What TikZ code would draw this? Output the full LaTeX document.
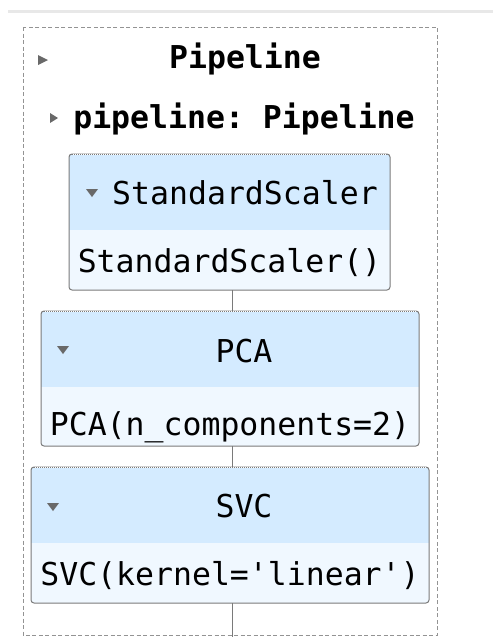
\documentclass[tikz,border=0pt]{standalone}
\usepackage{fontspec}
\setmonofont{DejaVu Sans Mono}
\usepackage{tikz}
\definecolor{skhead}{HTML}{D4EBFF}
\definecolor{skbody}{HTML}{F0F8FF}
\definecolor{skline}{HTML}{7A7A7A}
\definecolor{sktri}{HTML}{696969}
\tikzset{
	outerbox/.style={draw=gray!85, line width=1pt, dash pattern=on 4pt off 2.5pt},
	estbox/.style={inner sep=0pt, outer sep=0pt},
	boxline/.style={draw=skline, line width=1pt, rounded corners=3pt},
	topdots/.style={draw=skline, line width=1pt, dash pattern=on 1pt off 1pt},
	link/.style={draw=skline, line width=1pt},
	tri/.style={fill=sktri},
	boldtxt/.style={font=\ttfamily\bfseries\fontsize{31.5}{36}\selectfont, inner sep=0pt, anchor=base},
	plaintxt/.style={font=\ttfamily\fontsize{31.5}{36}\selectfont, inner sep=0pt, anchor=base}
}

\begin{document}
\begin{tikzpicture}[x=1pt,y=-1pt]
		\useasboundingbox (0,0) rectangle (493,637);
		\draw[line width=3pt,color=gray!18] (8,11) -- (493,11);
		\draw[outerbox] (23,27) rectangle (437,635);

		% pipeline titles
		\fill[tri] (38,55) -- (48,60) -- (38,65) -- cycle;
		\node[boldtxt] (title) at (245,68) {Pipeline};
		\fill[tri] (50,113) -- (58,118) -- (50,123) -- cycle;
		\node[boldtxt] (pipe) at (244,128) {pipeline: Pipeline};

		% StandardScaler
		\node[estbox,minimum width=321pt,minimum height=136pt] (ss) at (229.5,222) {};
		\begin{scope}
			\clip[rounded corners=3pt] (ss.north west) rectangle (ss.south east);
			\fill[skbody] (ss.north west) rectangle (ss.south east);
			\fill[skhead] (ss.north west) rectangle ([yshift=-76pt]ss.north east);
		\end{scope}
		\draw[boxline] (ss.north west) rectangle (ss.south east);
		\draw[white,line width=1pt] ([xshift=3pt]ss.north west) -- ([xshift=-3pt]ss.north east);
		\draw[topdots] ([xshift=3pt]ss.north west) -- ([xshift=-3pt]ss.north east);
		\fill[tri] (86,189) -- (98,189) -- (92,197) -- cycle;
		\node[plaintxt] (ssname) at (245,204) {StandardScaler};
		\node[plaintxt] (ssparam) at (229.5,272) {StandardScaler()};

		% PCA
		\node[estbox,minimum width=378pt,minimum height=135pt] (pca) at (230,378.5) {};
		\begin{scope}
			\clip[rounded corners=3pt] (pca.north west) rectangle (pca.south east);
			\fill[skbody] (pca.north west) rectangle (pca.south east);
			\fill[skhead] (pca.north west) rectangle ([yshift=-76pt]pca.north east);
		\end{scope}
		\draw[boxline] (pca.north west) rectangle (pca.south east);
		\draw[white,line width=1pt] ([xshift=3pt]pca.north west) -- ([xshift=-3pt]pca.north east);
		\draw[topdots] ([xshift=3pt]pca.north west) -- ([xshift=-3pt]pca.north east);
		\fill[tri] (57,346) -- (69,346) -- (63,354) -- cycle;
		\node[plaintxt] (pcaname) at (244,362) {PCA};
		\node[plaintxt] (pcaparam) at (230,435) {PCA(n\_components=2)};

		% SVC
		\node[estbox,minimum width=398pt,minimum height=136pt] (svc) at (230,535) {};
		\begin{scope}
			\clip[rounded corners=3pt] (svc.north west) rectangle (svc.south east);
			\fill[skbody] (svc.north west) rectangle (svc.south east);
			\fill[skhead] (svc.north west) rectangle ([yshift=-76pt]svc.north east);
		\end{scope}
		\draw[boxline] (svc.north west) rectangle (svc.south east);
		\draw[white,line width=1pt] ([xshift=3pt]svc.north west) -- ([xshift=-3pt]svc.north east);
		\draw[topdots] ([xshift=3pt]svc.north west) -- ([xshift=-3pt]svc.north east);
		\fill[tri] (47,503) -- (59,503) -- (53,511) -- cycle;
		\node[plaintxt] (svcname) at (244,517) {SVC};
		\node[plaintxt] (svcparam) at (230,585) {SVC(kernel='linear')};

		% connectors
		\coordinate (bottom) at (232,637);
		\draw[link] (ss.south -| bottom) -- (pca.north -| bottom);
		\draw[link] (pca.south -| bottom) -- (svc.north -| bottom);
		\draw[link] (svc.south -| bottom) -- (bottom);
	\end{tikzpicture}
\end{document}
